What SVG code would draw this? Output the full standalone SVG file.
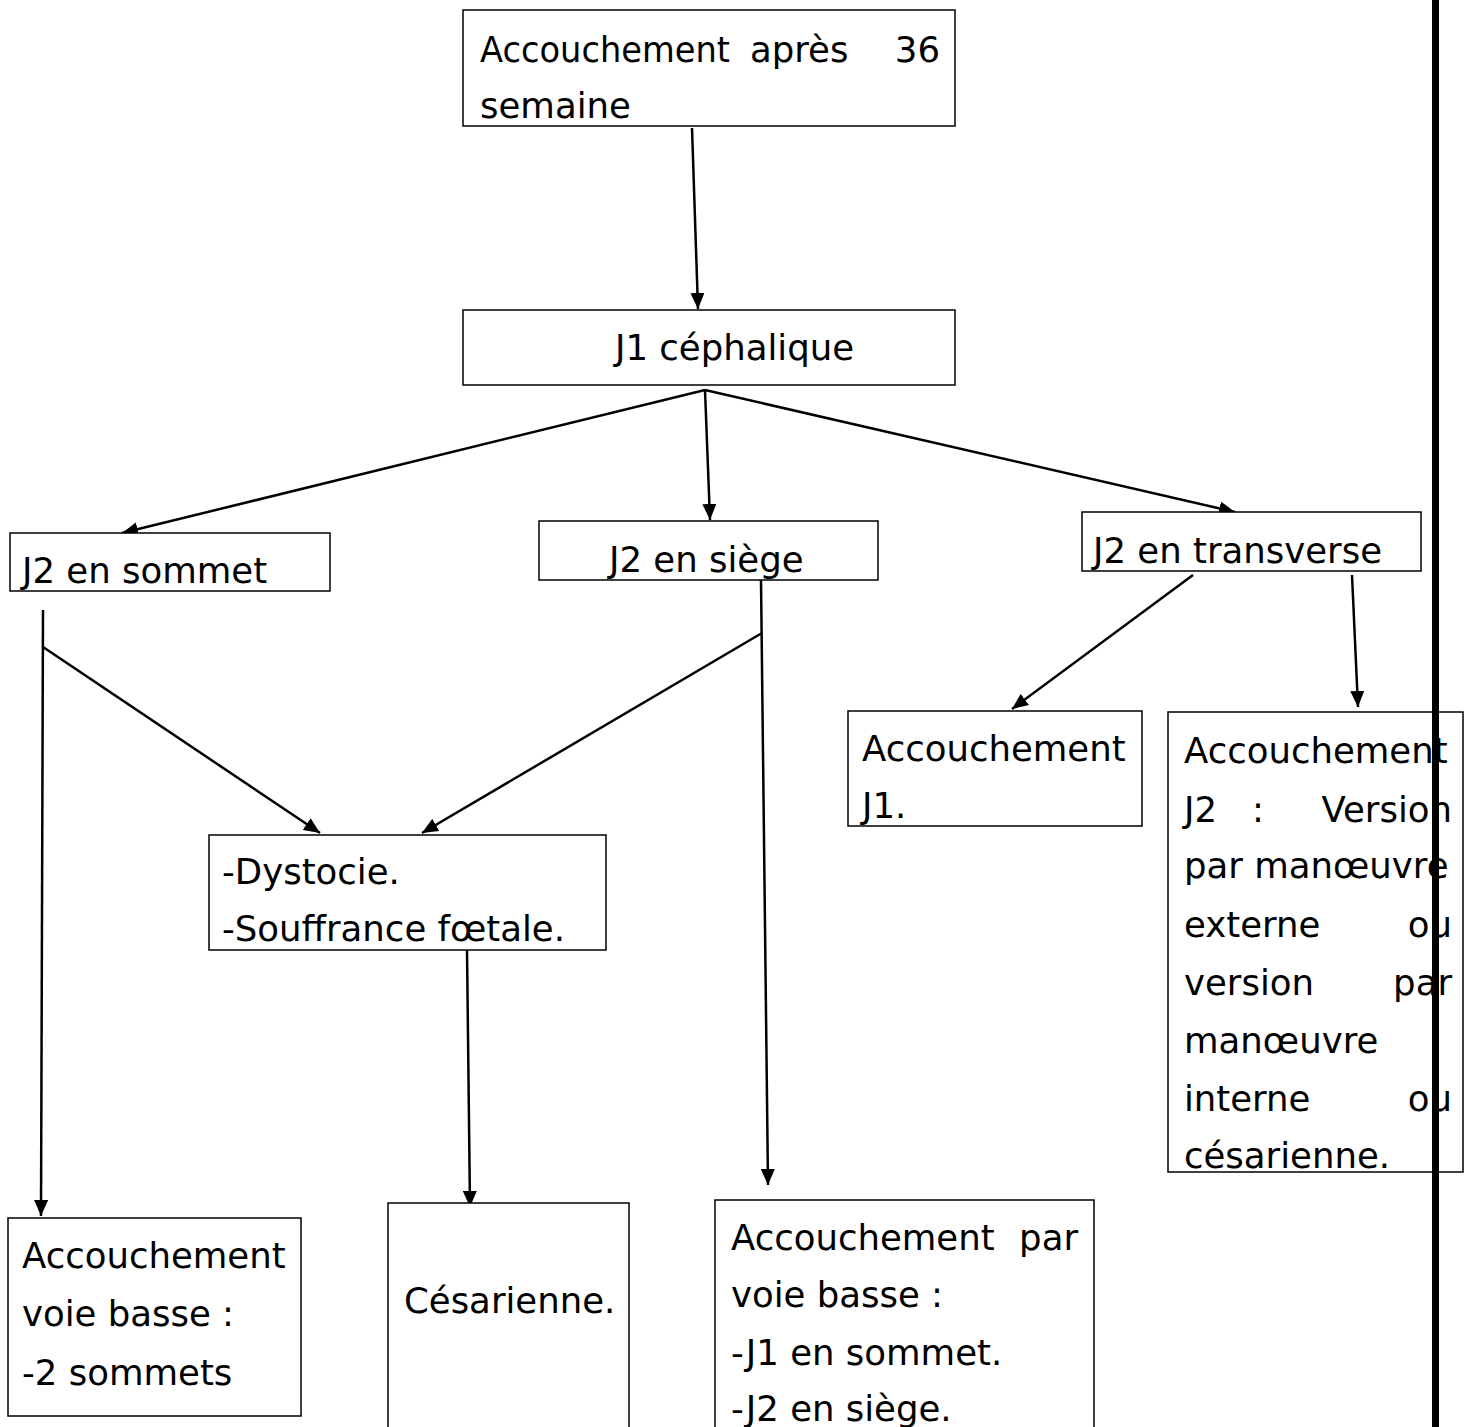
<svg xmlns="http://www.w3.org/2000/svg" width="1467" height="1427" viewBox="0 0 1467 1427">
<style>
.box{fill:#fff;stroke:#000;stroke-width:1.5}
.t{font-family:"DejaVu Sans","Liberation Sans",sans-serif;font-size:35.5px;fill:#000}
.e{text-anchor:end}
.c{stroke:#000;stroke-width:2.5;fill:none}
</style>
<defs>
<marker id="ah" markerUnits="userSpaceOnUse" markerWidth="16" markerHeight="14" viewBox="0 0 16 14" refX="16" refY="7" orient="auto">
<path d="M0,0 L16,7 L0,14 z" fill="#000"/>
</marker>
</defs>
<rect width="1467" height="1427" fill="#fff"/>
<g id="connectors">
<line class="c" x1="692" y1="128" x2="698" y2="309" marker-end="url(#ah)"/>
<line class="c" x1="705" y1="390" x2="122" y2="533" marker-end="url(#ah)"/>
<line class="c" x1="705" y1="390" x2="710" y2="520" marker-end="url(#ah)"/>
<line class="c" x1="705" y1="390" x2="1235" y2="512" marker-end="url(#ah)"/>
<line class="c" x1="43" y1="610" x2="41" y2="1216" marker-end="url(#ah)"/>
<line class="c" x1="43" y1="647" x2="320" y2="833" marker-end="url(#ah)"/>
<line class="c" x1="761" y1="580" x2="768" y2="1185" marker-end="url(#ah)"/>
<line class="c" x1="762" y1="633" x2="422" y2="833" marker-end="url(#ah)"/>
<line class="c" x1="467" y1="950" x2="470" y2="1207" marker-end="url(#ah)"/>
<line class="c" x1="1193" y1="575" x2="1012" y2="709" marker-end="url(#ah)"/>
<line class="c" x1="1352" y1="575" x2="1358" y2="707" marker-end="url(#ah)"/>
</g>
<g id="n1">
<rect class="box" x="463" y="10" width="492" height="116"/>
<text class="t" x="480" y="62" textLength="250" lengthAdjust="spacingAndGlyphs">Accouchement</text>
<text class="t" x="750" y="62">après</text>
<text class="t e" x="940" y="62">36</text>
<text class="t" x="480" y="118">semaine</text>
</g>
<g id="n2">
<rect class="box" x="463" y="310" width="492" height="75"/>
<text class="t" x="615" y="360">J1 céphalique</text>
</g>
<g id="n3">
<rect class="box" x="10" y="533" width="320" height="58"/>
<text class="t" x="22" y="583">J2 en sommet</text>
</g>
<g id="n4">
<rect class="box" x="539" y="521" width="339" height="59"/>
<text class="t" x="609" y="572">J2 en siège</text>
</g>
<g id="n5">
<rect class="box" x="1082" y="512" width="339" height="59"/>
<text class="t" x="1093" y="563">J2 en transverse</text>
</g>
<g id="n6">
<rect class="box" x="209" y="835" width="397" height="115"/>
<text class="t" x="222" y="884">-Dystocie.</text>
<text class="t" x="222" y="941">-Souffrance fœtale.</text>
</g>
<g id="n7">
<rect class="box" x="848" y="711" width="294" height="115"/>
<text class="t" x="862" y="761">Accouchement</text>
<text class="t" x="862" y="818">J1.</text>
</g>
<g id="n8">
<rect class="box" x="1168" y="712" width="295" height="460"/>
<text class="t" x="1184" y="763">Accouchement</text>
<text class="t" x="1184" y="822">J2</text>
<text class="t" x="1252" y="822">:</text>
<text class="t e" x="1452" y="822">Version</text>
<text class="t" x="1184" y="878">par manœuvre</text>
<text class="t" x="1184" y="937">externe</text>
<text class="t e" x="1452" y="937">ou</text>
<text class="t" x="1184" y="995">version</text>
<text class="t e" x="1452" y="995">par</text>
<text class="t" x="1184" y="1053">manœuvre</text>
<text class="t" x="1184" y="1111">interne</text>
<text class="t e" x="1452" y="1111">ou</text>
<text class="t" x="1184" y="1168">césarienne.</text>
</g>
<g id="n9">
<rect class="box" x="8" y="1218" width="293" height="198"/>
<text class="t" x="22" y="1268">Accouchement</text>
<text class="t" x="22" y="1326">voie basse :</text>
<text class="t" x="22" y="1385">-2 sommets</text>
</g>
<g id="n10">
<path class="box" d="M388,1430 V1203 H629 V1430"/>
<text class="t" x="404" y="1313">Césarienne.</text>
</g>
<g id="n11">
<path class="box" d="M715,1430 V1200 H1094 V1430"/>
<text class="t" x="731" y="1250">Accouchement</text>
<text class="t e" x="1078" y="1250">par</text>
<text class="t" x="731" y="1307">voie basse :</text>
<text class="t" x="731" y="1365">-J1 en sommet.</text>
<text class="t" x="731" y="1421">-J2 en siège.</text>
</g>
<rect x="1432" y="0" width="7" height="1427" fill="#000"/>
</svg>
